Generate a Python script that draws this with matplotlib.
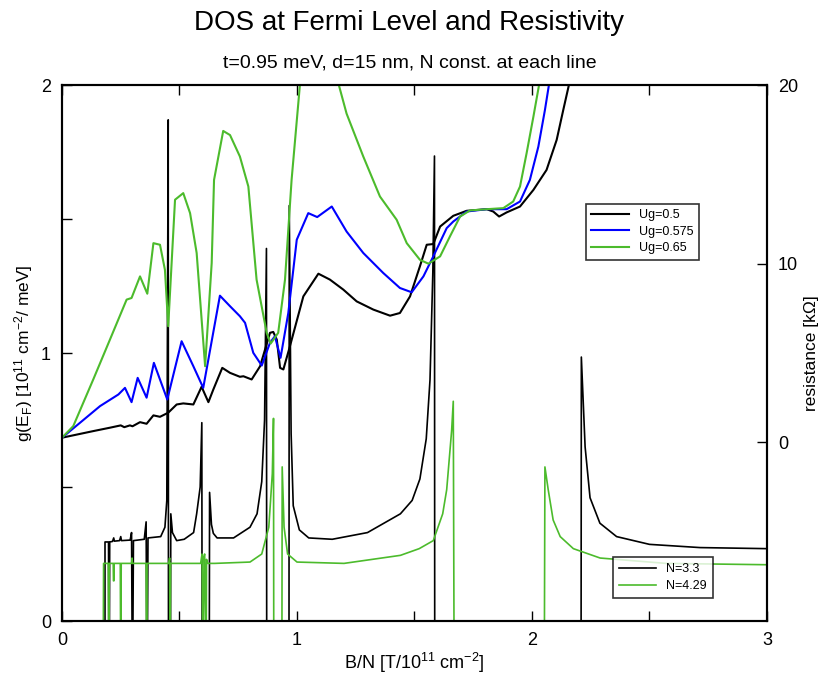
import matplotlib
matplotlib.use('Agg')
import matplotlib.pyplot as plt
from matplotlib.ticker import MultipleLocator

plt.rcParams['font.family'] = ['Liberation Sans', 'DejaVu Sans']
plt.rcParams['mathtext.fontset'] = 'custom'
plt.rcParams['mathtext.rm'] = 'Liberation Sans'
plt.rcParams['mathtext.it'] = 'Liberation Sans:italic'
plt.rcParams['mathtext.default'] = 'regular'

GREEN = '#4cbb2c'

# resistance curves [kOhm] vs B/N
r05_x = [0.0, 0.133, 0.204, 0.25, 0.265, 0.289, 0.300, 0.332, 0.36, 0.389, 0.417, 0.452, 0.488, 0.516,
         0.559, 0.594, 0.623, 0.644, 0.682, 0.715, 0.757, 0.772, 0.807, 0.843, 0.885, 0.899, 0.914,
         0.928, 0.942, 0.970, 1.027, 1.091, 1.140, 1.197, 1.254, 1.325, 1.396, 1.438, 1.481, 1.523,
         1.552, 1.58, 1.609, 1.665, 1.722, 1.807, 1.835, 1.860, 1.892, 1.949, 2.006, 2.062, 2.105,
         2.133, 2.157, 2.18]
r05_y = [0.26, 0.63, 0.82, 0.95, 0.85, 0.95, 0.90, 1.13, 1.04, 1.51, 1.43, 1.66, 2.12, 2.18,
         2.12, 3.11, 2.25, 2.96, 4.17, 3.89, 3.67, 3.70, 3.52, 4.26, 6.13, 6.18, 5.75,
         4.17, 4.08, 5.38, 8.17, 9.44, 9.11, 8.55, 7.89, 7.43, 7.09, 7.24, 8.17, 9.85,
         11.06, 11.10, 12.08, 12.68, 12.96, 13.05, 12.92, 12.64, 12.87, 13.20, 14.13, 15.25, 16.93,
         18.6, 20.0, 21.5]

r0575_x = [0.0, 0.077, 0.162, 0.24, 0.268, 0.296, 0.322, 0.36, 0.391, 0.448, 0.509, 0.559, 0.601,
           0.672, 0.715, 0.757, 0.779, 0.814, 0.850, 0.885, 0.906, 0.930, 0.963, 0.999, 1.048,
           1.086, 1.148, 1.211, 1.282, 1.367, 1.438, 1.488, 1.538, 1.58, 1.637, 1.665, 1.722,
           1.807, 1.892, 1.949, 1.991, 2.027, 2.055, 2.072, 2.09]
r0575_y = [0.26, 1.10, 2.03, 2.68, 3.05, 2.25, 3.61, 2.50, 4.45, 2.40, 5.66, 4.26, 3.05,
           8.21, 7.62, 7.06, 6.69, 5.01, 4.30, 5.57, 5.94, 4.73, 7.24, 11.34, 12.83,
           12.61, 13.20, 11.80, 10.60, 9.48, 8.64, 8.40, 9.29, 10.41, 11.99, 12.36, 12.92,
           13.05, 13.05, 13.48, 14.69, 16.55, 18.6, 20.0, 21.5]

r065_x = [0.0, 0.048, 0.133, 0.204, 0.275, 0.296, 0.332, 0.363, 0.389, 0.417, 0.438, 0.452, 0.481,
          0.516, 0.545, 0.573, 0.609, 0.637, 0.647, 0.686, 0.715, 0.757, 0.793, 0.828, 0.871,
          0.888, 0.920, 0.949, 0.977, 1.013, 1.06, 1.13, 1.176, 1.211, 1.282, 1.353, 1.424, 1.467,
          1.523, 1.559, 1.609, 1.651, 1.694, 1.736, 1.807, 1.878, 1.92, 1.949, 1.977, 2.006, 2.03,
          2.05]
r065_y = [0.26, 0.91, 3.52, 5.75, 7.99, 8.08, 9.29, 8.32, 11.15, 11.06, 9.66, 6.50, 13.58,
          13.95, 12.83, 10.60, 4.26, 10.04, 14.69, 17.43, 17.2, 16.0, 14.32, 9.11, 6.13,
          5.53, 6.13, 9.11, 14.69, 20.1, 23.0, 23.0, 20.1, 18.4, 16.0, 13.76, 12.46, 11.15,
          10.22, 10.0, 10.41, 11.53, 12.64, 12.98, 13.05, 13.11, 13.48, 14.32, 16.18, 18.23, 20.0,
          21.5]

# DOS at Fermi level vs B/N
dos33_x = [0.183, 0.183, 0.198, 0.199, 0.202, 0.203, 0.215, 0.22, 0.223, 0.245, 0.25, 0.253,
           0.29, 0.296, 0.298, 0.302, 0.304, 0.35, 0.358, 0.36, 0.364, 0.366, 0.42, 0.438, 0.446,
           0.452, 0.453, 0.462, 0.463, 0.47, 0.488, 0.52, 0.56, 0.573, 0.588, 0.595, 0.596, 0.627,
           0.628, 0.636, 0.644, 0.66, 0.73, 0.80, 0.83, 0.85, 0.862, 0.870, 0.871, 0.966, 0.967,
           0.975, 0.984, 1.01, 1.05, 1.15, 1.30, 1.44, 1.49, 1.523, 1.55, 1.566, 1.578, 1.585,
           1.586, 2.209, 2.21, 2.226, 2.247, 2.289, 2.36, 2.50, 2.715, 3.0]
dos33_y = [0.0, 0.295, 0.295, 0.0, 0.0, 0.295, 0.297, 0.31, 0.298, 0.30, 0.315, 0.30,
           0.302, 0.33, 0.0, 0.0, 0.30, 0.305, 0.37, 0.0, 0.0, 0.31, 0.315, 0.35, 0.45,
           1.87, 0.0, 0.0, 0.40, 0.33, 0.30, 0.305, 0.33, 0.40, 0.50, 0.74, 0.0, 0.0,
           0.48, 0.36, 0.327, 0.31, 0.31, 0.35, 0.40, 0.52, 0.75, 1.39, 0.0, 0.0, 1.55,
           0.70, 0.43, 0.34, 0.31, 0.305, 0.33, 0.40, 0.45, 0.53, 0.68, 0.90, 1.30, 1.735,
           0.0, 0.0, 0.985, 0.65, 0.46, 0.365, 0.315, 0.286, 0.274, 0.27]

dos429_x = [0.176, 0.177, 0.197, 0.198, 0.200, 0.201, 0.218, 0.219, 0.221, 0.222, 0.248, 0.249,
            0.251, 0.252, 0.296, 0.298, 0.300, 0.358, 0.359, 0.361, 0.362, 0.455, 0.458, 0.459,
            0.461, 0.462, 0.59, 0.596, 0.598, 0.603, 0.604, 0.607, 0.612, 0.614, 0.615, 0.62,
            0.65, 0.80, 0.85, 0.88, 0.895, 0.900, 0.901, 0.936, 0.937, 0.945, 0.96, 1.0, 1.2,
            1.44, 1.52, 1.58, 1.62, 1.637, 1.658, 1.665, 1.668, 2.053, 2.055, 2.069, 2.09, 2.12,
            2.176, 2.29, 2.57, 3.0]
dos429_y = [0.0, 0.215, 0.215, 0.0, 0.0, 0.215, 0.215, 0.15, 0.15, 0.215, 0.215, 0.0,
            0.0, 0.215, 0.215, 0.235, 0.215, 0.215, 0.0, 0.0, 0.215, 0.215, 0.235, 0.0,
            0.0, 0.215, 0.215, 0.25, 0.0, 0.0, 0.24, 0.25, 0.0, 0.0, 0.23, 0.215,
            0.215, 0.22, 0.25, 0.35, 0.55, 0.756, 0.0, 0.0, 0.575, 0.35, 0.25, 0.22, 0.215,
            0.245, 0.27, 0.30, 0.40, 0.49, 0.71, 0.82, 0.0, 0.0, 0.575, 0.49, 0.377, 0.315,
            0.27, 0.235, 0.215, 0.21]


def style_axis(ax):
    for s in ax.spines.values():
        s.set_linewidth(1.5)


fig = plt.figure(figsize=(8.19, 6.77), dpi=100)
ax = fig.add_axes([0.0757, 0.0827, 0.8608, 0.7917])
ax2 = ax.twinx()

l1, = ax.plot(dos33_x, dos33_y, color='black', lw=1.2, label='N=3.3')
l2, = ax.plot(dos429_x, dos429_y, color=GREEN, lw=1.2, label='N=4.29')

r1, = ax2.plot(r05_x, r05_y, color='black', lw=1.5, label='Ug=0.5')
r2, = ax2.plot(r0575_x, r0575_y, color='#0000ff', lw=1.5, label='Ug=0.575')
r3, = ax2.plot(r065_x, r065_y, color=GREEN, lw=1.5, label='Ug=0.65')

ax.set_xlim(0, 3)
ax.set_ylim(0, 2)
ax2.set_ylim(-10, 20)
ax.xaxis.set_major_locator(MultipleLocator(1))
ax.xaxis.set_minor_locator(MultipleLocator(0.5))
ax.yaxis.set_major_locator(MultipleLocator(1))
ax.yaxis.set_minor_locator(MultipleLocator(0.5))
ax2.set_yticks([0, 10, 20])

ax.tick_params(which='both', direction='in', top=True, right=False, labelsize=13, pad=8)
ax.tick_params(which='major', length=7, width=1)
ax.tick_params(which='minor', length=7, width=1)
ax2.tick_params(which='both', direction='in', labelsize=13, length=7, width=1, pad=8)
style_axis(ax)
style_axis(ax2)

ax.set_xlabel('B/N [T/10$^{11}$ cm$^{-2}$]', fontsize=13, labelpad=1)
ax.set_ylabel('g(E$_F$) [10$^{11}$ cm$^{-2}$/ meV]', fontsize=12.5, labelpad=4)
ax2.set_ylabel('resistance [k\u03a9]', fontsize=12.5, labelpad=4)

fig.text(0.5, 0.966, 'DOS at Fermi Level and Resistivity', ha='center', va='center', fontsize=20)
fig.text(0.5, 0.907, 't=0.95 meV, d=15 nm, N const. at each line', ha='center', va='center', fontsize=14)

leg_r = ax2.legend(handles=[r1, r2, r3], loc='upper left', bbox_to_anchor=(0.734, 0.79),
                   fontsize=9, frameon=True, fancybox=False, edgecolor='black',
                   handlelength=3.0, borderpad=0.45, labelspacing=0.35)
leg_r.get_frame().set_linewidth(1.2)
leg_n = ax2.legend(handles=[l1, l2], loc='lower left', bbox_to_anchor=(0.772, 0.031),
                   fontsize=9, frameon=True, fancybox=False, edgecolor='black',
                   handlelength=3.0, borderpad=0.5, labelspacing=0.4)
leg_n.get_frame().set_linewidth(1.2)
ax2.add_artist(leg_r)

fig.savefig('out.png', dpi=100)
